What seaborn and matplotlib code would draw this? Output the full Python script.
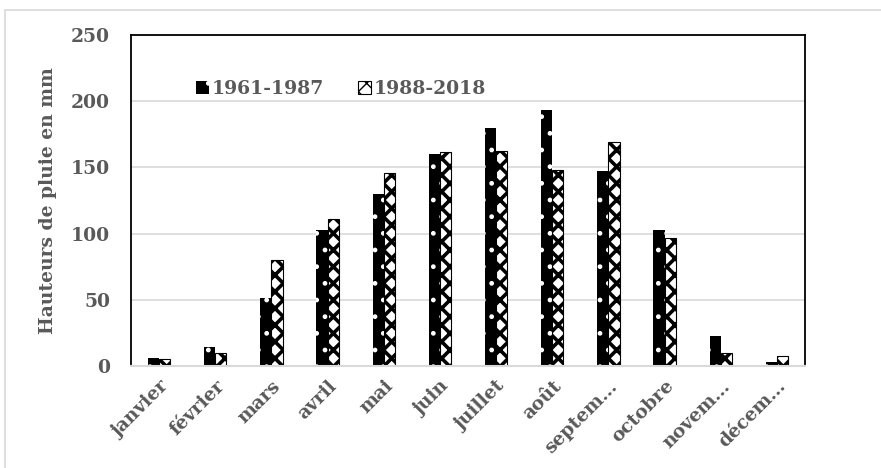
import matplotlib
matplotlib.use("Agg")
import matplotlib.pyplot as plt
import seaborn as sns
import pandas as pd
from matplotlib.patches import Patch, Rectangle

months = ["janvier", "février", "mars", "avril", "mai", "juin", "juillet",
          "août", "septem…", "octobre", "novem…", "décem…"]
p1961_1987 = [6, 14, 51, 103, 130, 160, 179.5, 193, 147, 103, 23, 3]
p1988_2018 = [5, 9.5, 80, 111, 146, 162, 162.5, 148, 169, 97, 10, 7.5]
series = ["1961-1987", "1988-2018"]
yticks = [0, 50, 100, 150, 200, 250]

df = pd.DataFrame({
    "mois": months * 2,
    "valeur": p1961_1987 + p1988_2018,
    "periode": [series[0]] * len(months) + [series[1]] * len(months),
})

sns.set_theme(style="white")
plt.rcParams["font.family"] = ["DejaVu Serif"]
plt.rcParams["hatch.linewidth"] = 1.0

fig = plt.figure(figsize=(8.81, 4.68), dpi=100)
fig.patches.append(Rectangle((5 / 881, -0.1), 1.2, 1 - 10 / 468 + 0.1,
                             transform=fig.transFigure, fill=False,
                             edgecolor="#d9d9d9", linewidth=1.2))
ax = fig.add_axes([131 / 881, 1 - 366 / 468, 674 / 881, 331 / 468])

sns.barplot(data=df, x="mois", y="valeur", hue="periode", order=months,
            hue_order=series, palette=["black", "white"], width=0.4,
            ax=ax, legend=False, saturation=1)


def style_a(p, lw=1.0):
    p.set_facecolor("black")
    p.set_edgecolor("white")
    p.set_hatch(".")
    p.set_linewidth(0)
    if hasattr(p, "set_hatch_linewidth"):
        p.set_hatch_linewidth(lw)


def style_b(p, lw=2.6):
    p.set_facecolor("white")
    p.set_edgecolor("black")
    p.set_hatch("xx")
    p.set_linewidth(0.8)
    if hasattr(p, "set_hatch_linewidth"):
        p.set_hatch_linewidth(lw)


n = len(months)
for i, bar in enumerate(ax.patches[:2 * n]):
    if i < n:
        style_a(bar)
    else:
        style_b(bar)

ax.set_ylim(0, 250)
ax.set_xlim(-0.5, n - 0.5)
ax.set_yticks(yticks)
ax.yaxis.grid(True, color="#d9d9d9", linewidth=1.2)
ax.set_axisbelow(True)
for s in ["left", "right", "top"]:
    ax.spines[s].set_color("black")
    ax.spines[s].set_linewidth(1.3)
ax.spines["bottom"].set_color("#d9d9d9")
ax.spines["bottom"].set_linewidth(1.5)
ax.tick_params(axis="both", length=0)
ax.set_xlabel("")
ax.set_ylabel("Hauteurs de pluie en mm", fontsize=13.5, fontweight="bold",
              color="#595959", labelpad=10)
ax.set_xticks(range(n))
ax.set_xticklabels(months, rotation=45, ha="right", rotation_mode="anchor",
                   fontsize=13.5, fontweight="bold", color="#595959")
for lab in ax.get_yticklabels():
    lab.set_fontsize(13.5)
    lab.set_fontweight("bold")
    lab.set_color("#595959")
ax.tick_params(axis="y", pad=15)
ax.tick_params(axis="x", pad=8)

ha = Patch()
style_a(ha)
hb = Patch()
style_b(hb, lw=1.5)
leg = ax.legend([ha, hb], series, ncol=2, frameon=False, loc="upper left",
                bbox_to_anchor=(0.072, 0.915), handlelength=0.65, handleheight=0.65,
                handletextpad=0.15, columnspacing=1.85,
                prop={"family": "DejaVu Serif", "weight": "bold", "size": 13.5})
for t in leg.get_texts():
    t.set_color("#595959")

fig.savefig("out.png", dpi=100)
